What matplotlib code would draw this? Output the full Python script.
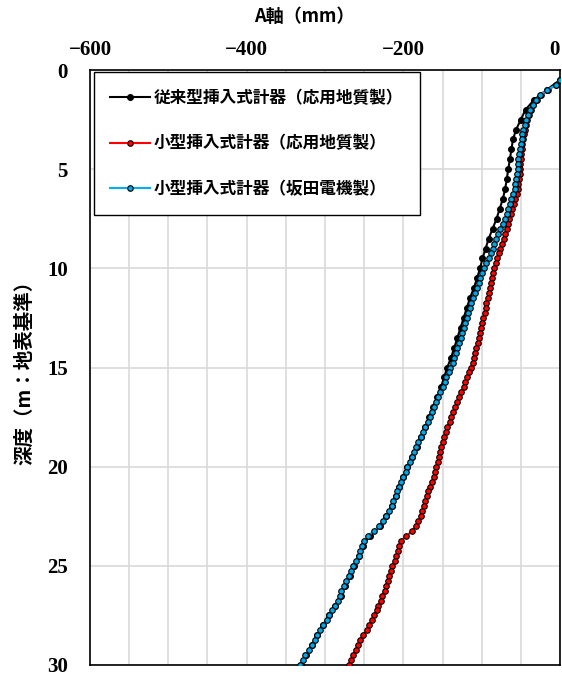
import matplotlib
matplotlib.use("Agg")
import matplotlib.pyplot as plt
import numpy as np

plt.rcParams["font.family"] = ["Noto Sans CJK JP", "DejaVu Sans"]

# 深度 (m)
depth_old = np.arange(0.5, 30.01, 0.5)
depth_new = np.arange(0.5, 30.01, 0.25)

# 従来型挿入式計器（応用地質製） A軸変位 (mm)、0.5m間隔
disp_old = [
    0, -17, -33, -44, -50, -56, -60, -62, -64, -66,
    -68, -70, -73, -77, -81, -86, -91, -95, -99, -102,
    -106, -110, -115, -119, -123, -127, -131, -135, -139, -144,
    -148, -152, -157, -162, -167, -172, -178, -183, -189, -195,
    -200, -205, -210, -215, -222, -230, -243, -252, -256, -263,
    -268, -274, -280, -287, -295, -303, -310, -317, -324, -331,
]

# 小型挿入式計器（応用地質製）、0.25m間隔
disp_red = [
    0, -5, -15, -24, -30, -34, -37, -40, -42, -44,
    -45, -46, -47, -48, -49, -49.5, -50, -50.5, -51, -51.5,
    -52, -53, -54, -55, -57, -59, -61, -63, -65, -66,
    -68, -70, -72, -74, -76, -78, -80, -82, -84, -85,
    -87, -88, -89, -91, -92, -94, -95, -96, -98, -99,
    -101, -102, -104, -105, -107, -108, -110, -111, -114, -116,
    -119, -121, -123, -126, -129, -131, -134, -136, -139, -141,
    -144, -146, -148, -150, -152, -153, -155, -156, -158, -159,
    -161, -163, -166, -168, -170, -172, -174, -176, -178, -181,
    -184, -189, -196, -203, -206, -207, -209, -211, -214, -216,
    -218, -220, -222, -224, -227, -229, -232, -234, -237, -240,
    -244, -247, -251, -255, -258, -261, -264, -267, -270,
]

# 小型挿入式計器（坂田電機製）、0.25m間隔
disp_blue = [
    0, -5, -16, -25, -31, -35, -38, -41, -43, -45,
    -47, -48, -49, -50, -51, -52, -53, -53.5, -54, -55,
    -56, -57, -58, -60, -62, -64, -66, -68, -70, -73,
    -76, -79, -82, -84, -86, -88, -91, -94, -97, -99,
    -102, -104, -106, -108, -111, -113, -115, -117, -119, -121,
    -123, -125, -127, -129, -131, -133, -135, -137, -140, -142,
    -145, -147, -150, -153, -156, -158, -161, -163, -166, -169,
    -172, -175, -178, -181, -184, -186, -189, -192, -195, -197,
    -200, -203, -205, -208, -210, -213, -215, -218, -222, -226,
    -231, -238, -245, -250, -253, -255, -257, -261, -264, -267,
    -270, -273, -276, -279, -281, -284, -287, -291, -295, -298,
    -302, -306, -310, -313, -317, -321, -325, -328, -332,
]

labels = [
    "従来型挿入式計器（応用地質製）",
    "小型挿入式計器（応用地質製）",
    "小型挿入式計器（坂田電機製）",
]

fig = plt.figure(figsize=(5.62, 6.77), dpi=100)
ax = fig.add_axes([90 / 562, 12 / 677, 470 / 562, 595 / 677])

ax.plot(disp_old, depth_old, color="black", lw=1.5, marker="o", ms=4.2,
        mfc="black", mec="black", mew=0.8, label=labels[0], zorder=3)
ax.plot(disp_red, depth_new, color="#ff0000", lw=1.5, marker="o", ms=4.0,
        mfc="#ff0000", mec="black", mew=0.8, label=labels[1], zorder=4)
ax.plot(disp_blue, depth_new, color="#00b0f0", lw=1.5, marker="o", ms=4.0,
        mfc="#00a8e8", mec="black", mew=0.8, label=labels[2], zorder=5)

ax.set_xlim(-600, 0)
ax.set_ylim(30, 0)
ax.set_xticks(np.arange(-600, 1, 200))
ax.set_xticks(np.arange(-600, 1, 50), minor=True)
ax.set_yticks(np.arange(0, 31, 5))
ax.grid(True, which="both", color="#d9d9d9", lw=1.2)
ax.set_axisbelow(True)

ax.xaxis.tick_top()
ax.xaxis.set_label_position("top")
ax.tick_params(axis="x", which="both", length=0, pad=7)
ax.tick_params(axis="y", length=0, pad=16)
for t in ax.get_xticklabels() + ax.get_yticklabels():
    t.set_fontfamily(["Liberation Serif", "DejaVu Serif"])
    t.set_fontweight("bold")
    t.set_fontsize(15)
# 右端の「0」は枠内に収める
ax.get_xticklabels()[-1].set_horizontalalignment("right")

for s in ax.spines.values():
    s.set_color("black")
    s.set_linewidth(1.2)

ax.set_xlabel("A軸（mm）", fontsize=13, fontweight="bold")
ax.xaxis.set_label_coords(0.455, 1.08)
ax.set_ylabel("深度（m：地表基準）", fontsize=14, fontweight="bold")
ax.yaxis.set_label_coords(-0.118, 0.5)

leg = ax.legend(loc="upper left", bbox_to_anchor=(0.008, 0.996),
                prop={"weight": "bold", "size": 12}, frameon=True, fancybox=False,
                edgecolor="black", framealpha=1, labelspacing=1.65,
                handlelength=2.4, handletextpad=0.2, borderpad=1.0,
                borderaxespad=0)
leg.get_frame().set_linewidth(1.0)

fig.savefig("out.png", dpi=100)
